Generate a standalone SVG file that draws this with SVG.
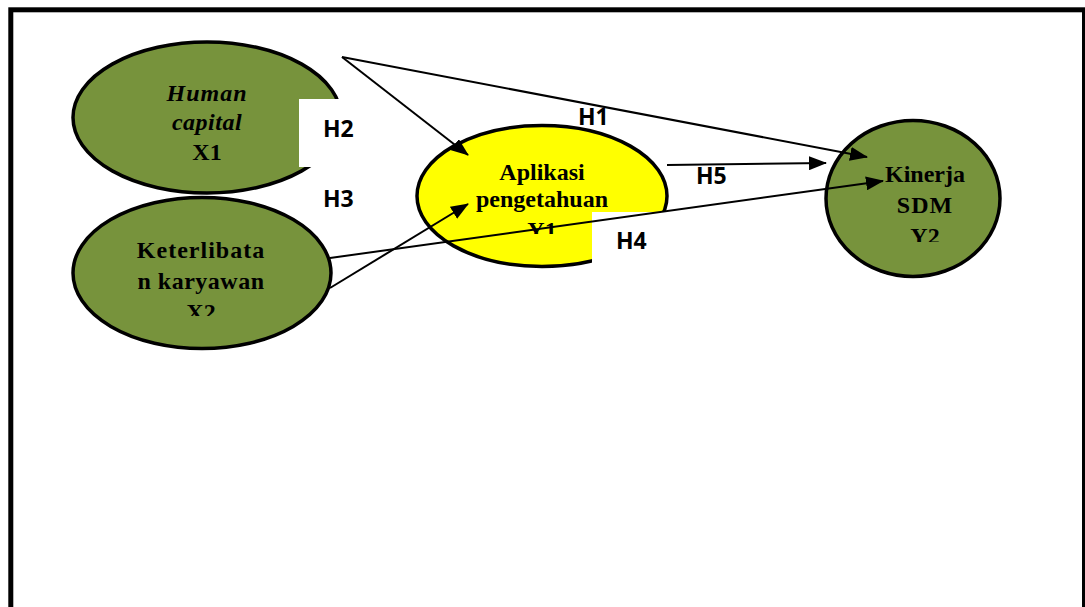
<svg xmlns="http://www.w3.org/2000/svg" width="1085" height="607" viewBox="0 0 1085 607">
<style>
.frame{fill:none;stroke:#000;stroke-width:5}
.node{stroke:#000;stroke-width:3.5}
.green{fill:#77933C}
.yellow{fill:#FFFF00}
.nt{font-family:"Liberation Serif","Times New Roman",serif;font-weight:bold;font-size:24px;fill:#000;text-anchor:middle}
.it{font-style:italic}
.lbl{font-family:"Open Sans","Liberation Sans",sans-serif;font-weight:bold;font-size:23px;fill:#000}
.mask{fill:#fff}
.conn{stroke:#000;stroke-width:2;fill:none}
</style>
<defs>
<marker id="ah" viewBox="0 0 18 14" refX="17" refY="7" markerWidth="18" markerHeight="14" markerUnits="userSpaceOnUse" orient="auto">
<path d="M0,0 L18,7 L0,14 z" fill="#000"/>
</marker>
<clipPath id="cx2"><rect x="60" y="200" width="290" height="116"/></clipPath>
<clipPath id="cy1"><rect x="420" y="130" width="250" height="104"/></clipPath>
<clipPath id="cy2"><rect x="830" y="120" width="180" height="122"/></clipPath>
</defs>
<rect class="frame" x="10.8" y="9.8" width="1073.7" height="700"/>

<g id="node-x1">
<ellipse class="node green" cx="207" cy="117.5" rx="134" ry="75.5"/>
<text class="nt it" x="207" y="101" letter-spacing="1">Human</text>
<text class="nt it" x="207" y="130" letter-spacing="0.5">capital</text>
<text class="nt" x="207" y="160">X1</text>
</g>
<g id="node-x2">
<ellipse class="node green" cx="202" cy="273" rx="129" ry="75.5"/>
<g clip-path="url(#cx2)">
<text class="nt" x="201" y="258" letter-spacing="1">Keterlibata</text>
<text class="nt" x="201" y="289" letter-spacing="0.5">n karyawan</text>
<text class="nt" x="201" y="320">X2</text>
</g>
</g>
<g id="node-y1">
<ellipse class="node yellow" cx="542" cy="196" rx="125" ry="70.5"/>
<g clip-path="url(#cy1)">
<text class="nt" x="542" y="180">Aplikasi</text>
<text class="nt" x="542" y="207">pengetahuan</text>
<text class="nt" x="542" y="238">Y1</text>
</g>
</g>
<g id="node-y2">
<ellipse class="node green" cx="913" cy="198.5" rx="87" ry="78"/>
<g clip-path="url(#cy2)">
<text class="nt" x="925" y="182">Kinerja</text>
<text class="nt" x="925" y="213" letter-spacing="1">SDM</text>
<text class="nt" x="925" y="244">Y2</text>
</g>
</g>

<g id="labels">
<rect class="mask" x="299" y="99" width="50" height="68"/>
<rect class="mask" x="592" y="212" width="80" height="60"/>
<text class="lbl" x="578" y="125">H1</text>
<text class="lbl" x="323" y="137">H2</text>
<text class="lbl" x="323" y="207">H3</text>
<text class="lbl" x="616" y="249">H4</text>
<text class="lbl" x="696" y="184">H5</text>
</g>

<g id="connectors">
<line class="conn" x1="342" y1="57" x2="468" y2="155" marker-end="url(#ah)"/>
<line class="conn" x1="342" y1="57" x2="867" y2="157" marker-end="url(#ah)"/>
<line class="conn" x1="330" y1="288" x2="468" y2="204" marker-end="url(#ah)"/>
<line class="conn" x1="330" y1="258" x2="883" y2="181" marker-end="url(#ah)"/>
<line class="conn" x1="667" y1="165" x2="826" y2="163" marker-end="url(#ah)"/>
</g>
</svg>
